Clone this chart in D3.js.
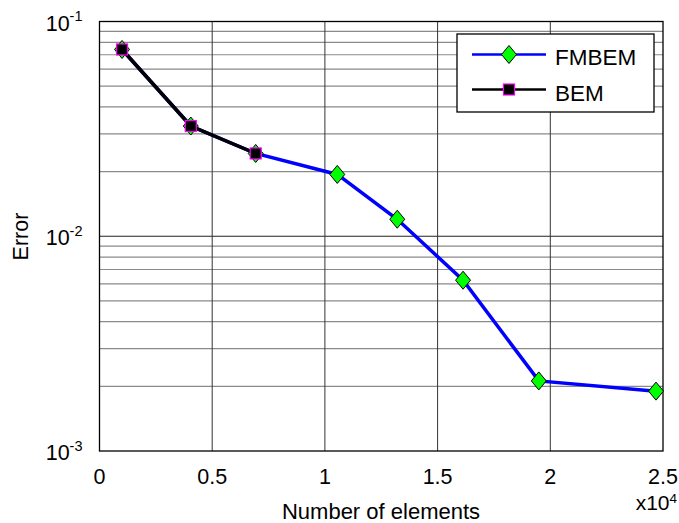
<!DOCTYPE html>
<html>
<head>
<meta charset="utf-8">
<script src="https://cdn.jsdelivr.net/npm/d3@7"></script>
<style>
  body { margin: 0; background: #fff; }
  text { font-family: "Liberation Sans", Arial, sans-serif; }
</style>
</head>
<body>
<div id="chart"></div>
<script>
/* Error vs number of elements, log scale */

const width = 679,
    height = 523,
    margin = ({ top: 21.5, right: 16, bottom: 72, left: 99.5 });

// data
const fmbemN = [1000, 4050, 6930, 10550, 13210, 16130, 19490, 24690];
const fmbemErr = [0.0741, 0.0326, 0.0243, 0.0194, 0.0120, 0.00624, 0.00212, 0.00190];
const bemN = [1000, 4050, 6930];
const bemErr = [0.0741, 0.0326, 0.0243];
const xTicks = [0, 5000, 10000, 15000, 20000, 25000];
const xTickLabels = ["0", "0.5", "1", "1.5", "2", "2.5"];
const yTicks = [1e-3, 1e-2, 1e-1];
const yExponents = ["-3", "-2", "-1"];

const svg = d3.select("#chart")
    .append("svg")
    .attr("width", width)
    .attr("height", height);

let x = d3.scaleLinear()
    .domain([0, 25000])
    .range([margin.left, width - margin.right]);

let y = d3.scaleLog()
    .domain([1e-3, 1e-1])
    .range([height - margin.bottom, margin.top]);

const x0 = x.range()[0], x1 = x.range()[1];
const y0 = y.range()[0], y1 = y.range()[1];

// minor horizontal grid
let minor = [];
for (let e = -3; e < -1; e++) {
    for (let k = 2; k <= 9; k++) minor.push(k * Math.pow(10, e));
}
svg.append("g")
    .selectAll("line")
    .data(minor)
    .join("line")
    .attr("x1", x0).attr("x2", x1)
    .attr("y1", d => y(d)).attr("y2", d => y(d))
    .attr("stroke", "#8a8a8a")
    .attr("stroke-width", 1.2);

// major grid
svg.append("g")
    .selectAll("line")
    .data(yTicks.slice(1, -1))
    .join("line")
    .attr("x1", x0).attr("x2", x1)
    .attr("y1", d => y(d)).attr("y2", d => y(d))
    .attr("stroke", "#222")
    .attr("stroke-width", 1.2);

svg.append("g")
    .selectAll("line")
    .data(xTicks.slice(1, -1))
    .join("line")
    .attr("x1", d => x(d)).attr("x2", d => x(d))
    .attr("y1", y0).attr("y2", y1)
    .attr("stroke", "#333")
    .attr("stroke-width", 1);

// box
svg.append("rect")
    .attr("x", x0).attr("y", y1)
    .attr("width", x1 - x0).attr("height", y0 - y1)
    .attr("fill", "none")
    .attr("stroke", "#000")
    .attr("stroke-width", 1.3);

// x tick labels
svg.append("g")
    .selectAll("text")
    .data(xTicks)
    .join("text")
    .attr("x", d => x(d))
    .attr("y", y0 + 33)
    .attr("text-anchor", "middle")
    .attr("font-size", 21.5)
    .text((d, i) => xTickLabels[i]);

// y tick labels 10^n
const yl = svg.append("g")
    .selectAll("text")
    .data(yTicks)
    .join("text")
    .attr("x", x0 - 17)
    .attr("y", d => y(d) + 9)
    .attr("text-anchor", "end")
    .attr("font-size", 21.5);
yl.append("tspan").text("10");
yl.append("tspan")
    .attr("dy", -9.5)
    .attr("font-size", 14.5)
    .text((d, i) => yExponents[i]);

// x10^4 multiplier
const mult = svg.append("text")
    .attr("x", 677)
    .attr("y", 510)
    .attr("text-anchor", "end")
    .attr("font-size", 21);
mult.append("tspan").text("x10");
mult.append("tspan").attr("dy", -7).attr("font-size", 13.5).text("4");

// axis labels
svg.append("text")
    .attr("x", 381)
    .attr("y", 519)
    .attr("text-anchor", "middle")
    .attr("font-size", 22)
    .text("Number of elements");

svg.append("text")
    .attr("transform", `translate(28,236.5) rotate(-90)`)
    .attr("text-anchor", "middle")
    .attr("font-size", 21.5)
    .text("Error");

// lines
let fm = fmbemN.map((n, i) => ({ n: n, e: fmbemErr[i] }));
let bm = bemN.map((n, i) => ({ n: n, e: bemErr[i] }));

let line = d3.line()
    .x(d => x(d.n))
    .y(d => y(d.e));

// MATLAB-like diamond, a little taller than wide
const tallDiamond = {
    draw(ctx, size) {
        const h = Math.sqrt(size) / 2, w = h * 0.83;
        ctx.moveTo(0, -h);
        ctx.lineTo(w, 0);
        ctx.lineTo(0, h);
        ctx.lineTo(-w, 0);
        ctx.closePath();
    }
};
const diamond = d3.symbol().type(tallDiamond).size(324);

svg.append("path")
    .datum(fm)
    .attr("d", line)
    .attr("fill", "none")
    .attr("stroke", "#0000ff")
    .attr("stroke-width", 3.5);

svg.append("g")
    .selectAll("path")
    .data(fm)
    .join("path")
    .attr("transform", d => `translate(${x(d.n)},${y(d.e)})`)
    .attr("d", diamond)
    .attr("fill", "#00ff00")
    .attr("stroke", "#000")
    .attr("stroke-width", 1);

svg.append("path")
    .datum(bm)
    .attr("d", line)
    .attr("fill", "none")
    .attr("stroke", "#000")
    .attr("stroke-width", 3.5);

svg.append("g")
    .selectAll("rect")
    .data(bm)
    .join("rect")
    .attr("x", d => x(d.n) - 5.5)
    .attr("y", d => y(d.e) - 5.5)
    .attr("width", 11).attr("height", 11)
    .attr("fill", "#000")
    .attr("stroke", "#ff00ff")
    .attr("stroke-width", 1.2);

// legend
const lg = svg.append("g").attr("transform", "translate(457,34)");
lg.append("rect")
    .attr("width", 197).attr("height", 78)
    .attr("fill", "#fff")
    .attr("stroke", "#000")
    .attr("stroke-width", 1.3);

lg.append("line")
    .attr("x1", 15).attr("x2", 89).attr("y1", 20.5).attr("y2", 20.5)
    .attr("stroke", "#0000ff").attr("stroke-width", 2.5);
lg.append("path")
    .attr("transform", "translate(52,20.5)")
    .attr("d", diamond)
    .attr("fill", "#00ff00").attr("stroke", "#000");
lg.append("text")
    .attr("x", 98).attr("y", 31)
    .attr("font-size", 22.5)
    .text("FMBEM");

lg.append("line")
    .attr("x1", 15).attr("x2", 89).attr("y1", 55.5).attr("y2", 55.5)
    .attr("stroke", "#000").attr("stroke-width", 2.5);
lg.append("rect")
    .attr("x", 46.5).attr("y", 50).attr("width", 11).attr("height", 11)
    .attr("fill", "#000").attr("stroke", "#ff00ff").attr("stroke-width", 1.2);
lg.append("text")
    .attr("x", 98).attr("y", 66.5)
    .attr("font-size", 22.5)
    .text("BEM");
</script>
</body>
</html>
